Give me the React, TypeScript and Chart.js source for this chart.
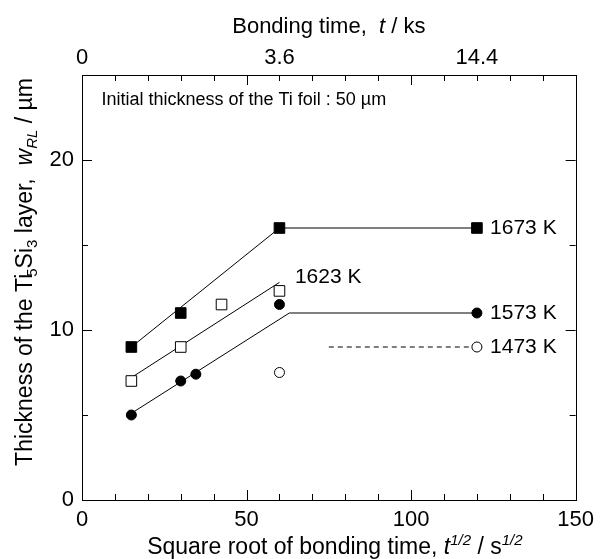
import React, { useEffect, useRef } from "react";
import { Chart, registerables } from "chart.js";

Chart.register(...registerables);

const FONT = '"Liberation Sans", Arial, Helvetica, sans-serif';

// ---- data ----
const x1673 = [15, 30, 60, 120];
const y1673 = [9, 11, 16, 16];
const x1623 = [15, 30, 42.4, 60];
const y1623 = [7, 9, 11.5, 12.3];
const x1573 = [15, 30, 34.6, 60, 120];
const y1573 = [5, 7, 7.4, 11.5, 11];
const x1473 = [60, 120];
const y1473 = [7.5, 9];

// fitted guide lines
const fit1673X = [15, 60, 120];
const fit1673Y = [9, 16, 16];
const fit1623X = [15, 60];
const fit1623Y = [7.2, 12.8];
const fit1573X = [15, 63, 120];
const fit1573Y = [5.1, 11, 11];
const fit1473X = [75, 120];
const fit1473Y = [9, 9];

// ticks
const bottomTicks = [0, 50, 100, 150];
const leftTicks = [0, 10, 20];
const topTickValues = [0, 60, 120];
const topTickLabels = ["0", "3.6", "14.4"];

// series labels (data coordinates)
const seriesNames = ["1673 K", "1623 K", "1573 K", "1473 K"];
const seriesLabelX = [124, 64.7, 124, 124];
const seriesLabelY = [16, 13.1, 11, 9];

const noteText = "Initial thickness of the Ti foil : 50 µm";
const noteX = 5.9;
const noteY = 23.5;

const pts = (xs: number[], ys: number[]) => xs.map((x, i) => ({ x, y: ys[i] }));

type Seg = { t: string; it?: boolean; sub?: boolean; sup?: boolean; dx?: number };

function drawRich(
  ctx: CanvasRenderingContext2D,
  segs: Seg[],
  cx: number,
  cy: number,
  size: number,
  rotate: boolean
) {
  const fontFor = (s: Seg) =>
    `${s.it ? "italic " : ""}${s.sub || s.sup ? Math.round(size * 0.65) : size}px ${FONT}`;
  let total = 0;
  const widths = segs.map((s) => {
    ctx.font = fontFor(s);
    const w = ctx.measureText(s.t).width + (s.dx || 0);
    total += w;
    return w;
  });
  ctx.save();
  ctx.translate(cx, cy);
  if (rotate) ctx.rotate(-Math.PI / 2);
  ctx.textBaseline = "alphabetic";
  ctx.textAlign = "left";
  ctx.fillStyle = "#000";
  let x = -total / 2;
  const base = size * 0.358;
  segs.forEach((s, i) => {
    ctx.font = fontFor(s);
    const dy = s.sub ? size * 0.22 : s.sup ? -size * 0.42 : 0;
    ctx.fillText(s.t, x + (s.dx || 0), base + dy);
    x += widths[i];
  });
  ctx.restore();
}

const decorPlugin = {
  id: "decor",
  afterDraw(chart: any) {
    const { ctx, chartArea: a, scales } = chart;
    const xs = scales.x;
    const ys = scales.y;
    ctx.save();
    ctx.strokeStyle = "#000";
    ctx.lineWidth = 1;
    ctx.strokeRect(Math.round(a.left) + 0.5, Math.round(a.top) + 0.5, Math.round(a.right - a.left), Math.round(a.bottom - a.top));
    const line = (x1: number, y1: number, x2: number, y2: number) => {
      ctx.beginPath();
      ctx.moveTo(x1, y1);
      ctx.lineTo(x2, y2);
      ctx.stroke();
    };
    for (let v = 0; v <= 150; v += 10) {
      const px = Math.round(xs.getPixelForValue(v)) + 0.5;
      const len = v % 50 === 0 ? 10 : 6;
      line(px, a.bottom, px, a.bottom - len);
      line(px, a.top, px, a.top + len);
    }
    for (let v = 0; v <= 25; v += 5) {
      const py = Math.round(ys.getPixelForValue(v)) + 0.5;
      const len = v % 10 === 0 ? 10 : 6;
      line(a.left, py, a.left + len, py);
      line(a.right, py, a.right - len, py);
    }

    // series labels
    ctx.fillStyle = "#000";
    ctx.font = `21px ${FONT}`;
    ctx.textAlign = "left";
    ctx.textBaseline = "middle";
    seriesNames.forEach((n, i) => {
      ctx.fillText(n, xs.getPixelForValue(seriesLabelX[i]), ys.getPixelForValue(seriesLabelY[i]));
    });

    // note
    ctx.font = `18px ${FONT}`;
    ctx.fillText(noteText, xs.getPixelForValue(noteX), ys.getPixelForValue(noteY));

    // axis titles
    const cxPlot = (a.left + a.right) / 2;
    drawRich(
      ctx,
      [{ t: "Bonding time,  " }, { t: "t", it: true }, { t: " / ks" }],
      cxPlot,
      25,
      22,
      false
    );
    drawRich(
      ctx,
      [
        { t: "Square root of bonding time, " },
        { t: "t", it: true },
        { t: "1/2", it: true, sup: true },
        { t: " / s" },
        { t: "1/2", it: true, sup: true },
      ],
      cxPlot + 6,
      546,
      23,
      false
    );
    drawRich(
      ctx,
      [
        { t: "Thickness of the Ti" },
        { t: "5", sub: true, dx: -3 },
        { t: "Si" },
        { t: "3", sub: true },
        { t: " layer,  " },
        { t: "w", it: true },
        { t: "RL", it: true, sub: true },
        { t: " / µm" },
      ],
      24,
      272,
      23,
      true
    );
    ctx.restore();
  },
};

export default function App() {
  const ref = useRef<HTMLCanvasElement | null>(null);
  useEffect(() => {
    if (!ref.current) return;
    const lineDs = (xs: number[], ys: number[], dash: number[] = []) => ({
      data: pts(xs, ys),
      showLine: true,
      borderColor: "#000",
      borderWidth: 1,
      borderDash: dash,
      pointRadius: 0,
      fill: false,
      xAxisID: "x",
      yAxisID: "y",
    });
    const markDs = (xs: number[], ys: number[], style: string, r: number, fillColor: string) => ({
      data: pts(xs, ys),
      showLine: false,
      pointStyle: style,
      pointRadius: r,
      pointBackgroundColor: fillColor,
      pointBorderColor: "#000",
      pointBorderWidth: 1,
      backgroundColor: fillColor,
      borderColor: "#000",
      xAxisID: "x",
      yAxisID: "y",
    });
    const tickFont = { family: FONT, size: 22 };
    const chart = new Chart(ref.current, {
      type: "scatter",
      data: {
        datasets: [
          markDs(x1673, y1673, "rect", 7.5, "#000"),
          markDs(x1623, y1623, "rect", 7.5, "#fff"),
          markDs(x1573, y1573, "circle", 5, "#000"),
          markDs(x1473, y1473, "circle", 5, "#fff"),
          lineDs(fit1673X, fit1673Y),
          lineDs(fit1623X, fit1623Y),
          lineDs(fit1573X, fit1573Y),
          lineDs(fit1473X, fit1473Y, [5, 4]),
        ] as any,
      },
      options: {
        responsive: false,
        animation: false,
        layout: { padding: 0 },
        plugins: { legend: { display: false }, tooltip: { enabled: false } },
        scales: {
          x: {
            type: "linear",
            position: "bottom",
            min: 0,
            max: 150,
            afterBuildTicks: (s: any) => {
              s.ticks = bottomTicks.map((v) => ({ value: v }));
            },
            afterFit: (s: any) => {
              s.height = 59;
            },
            grid: { display: false, drawTicks: false },
            border: { display: false },
            ticks: { font: tickFont, color: "#000", padding: 7, maxRotation: 0, autoSkip: false },
          },
          x2: {
            type: "linear",
            position: "top",
            min: 0,
            max: 150,
            afterBuildTicks: (s: any) => {
              s.ticks = topTickValues.map((v) => ({ value: v }));
            },
            afterFit: (s: any) => {
              s.height = 75;
            },
            grid: { display: false, drawTicks: false },
            border: { display: false },
            ticks: {
              font: tickFont,
              color: "#000",
              padding: 4,
              maxRotation: 0,
              autoSkip: false,
              callback: (_v: any, i: number) => topTickLabels[i],
            },
          },
          y: {
            type: "linear",
            position: "left",
            min: 0,
            max: 25,
            afterBuildTicks: (s: any) => {
              s.ticks = leftTicks.map((v) => ({ value: v }));
            },
            afterFit: (s: any) => {
              s.width = 82;
            },
            grid: { display: false, drawTicks: false },
            border: { display: false },
            ticks: { font: tickFont, color: "#000", padding: 8 },
          },
          y2: {
            type: "linear",
            position: "right",
            min: 0,
            max: 25,
            afterFit: (s: any) => {
              s.width = 22;
            },
            grid: { display: false, drawTicks: false },
            border: { display: false },
            ticks: { display: false },
          },
        },
      } as any,
      plugins: [decorPlugin],
    });
    return () => chart.destroy();
  }, []);
  return (
    <div style={{ position: "absolute", left: 0, top: 0, width: 601, height: 559, background: "#fff" }}>
      <canvas ref={ref} width={601} height={559} style={{ display: "block", width: 601, height: 559 }} />
    </div>
  );
}
